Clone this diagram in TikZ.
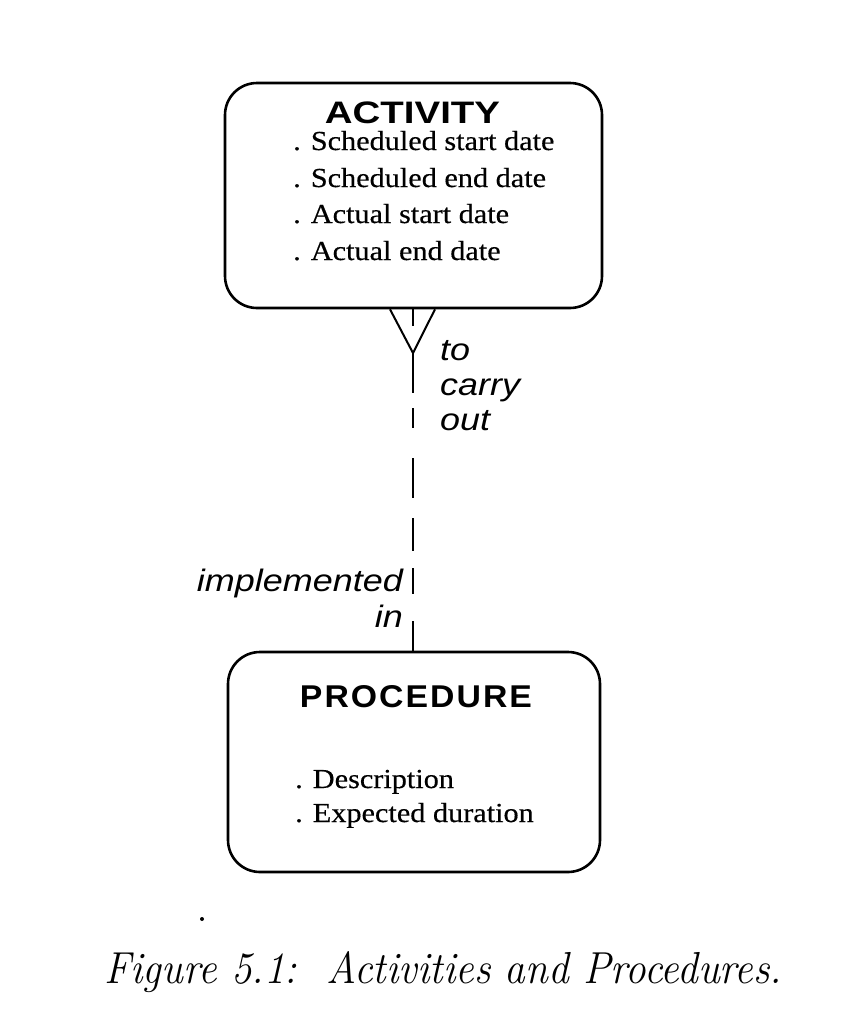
\documentclass[tikz,border=0pt]{standalone}
\usepackage{fontspec}
\usepackage{graphicx}
\newfontfamily\headfont{Liberation Sans}
\newfontfamily\lblfont{Liberation Sans}[FakeStretch=1.16]
\newfontfamily\attrfont{Liberation Serif}[FakeStretch=1.1,FakeBold=0.4]
\newcommand\captfont{\rmfamily\itshape\fontsize{40}{48}\selectfont}
\begin{document}
\begin{tikzpicture}[x=1pt,y=-1pt,
  entity/.style={draw, line width=2.6pt, rounded corners=32pt, inner sep=0pt},
  attr/.style={anchor=base west, inner sep=0pt, font=\attrfont\fontsize{27.5}{33}\selectfont},
  head/.style={anchor=base, inner sep=0pt},
  lbl/.style={inner sep=0pt, font=\lblfont\itshape\fontsize{31}{35}\selectfont},
  rel/.style={line width=2pt}]
\useasboundingbox (0,0) rectangle (860,1028);
\fill[white] (0,0) rectangle (860,1028);

% entities
\node[entity, minimum width=377pt, minimum height=225pt] (act) at (413.5,195.5) {};
\node[entity, minimum width=372pt, minimum height=220pt] (proc) at (414,762) {};

% titles
\node[head] (acttitle) at (412.5,123) {\resizebox{175pt}{21.7pt}{\headfont\bfseries ACTIVITY}};
\node[head] (proctitle) at (416,707) {\resizebox{232pt}{22pt}{\headfont\bfseries\addfontfeature{LetterSpace=6}PROCEDURE}};

% attributes
\node[attr] (a1) at (293,150) {. Scheduled start date};
\node[attr] (a2) at (293,187) {. Scheduled end date};
\node[attr] (a3) at (293,223) {. Actual start date};
\node[attr] (a4) at (293,260) {. Actual end date};
\node[attr] (p1) at (295,788) {. Description};
\node[attr] (p2) at (295,822) {. Expected duration};

% relationship
\coordinate (crowtip) at (413,353);
\draw[rel] ([xshift=-23.5pt]act.south) -- (crowtip) -- ([xshift=21.5pt]act.south);
\draw[rel, dash pattern=on 17pt off 27pt on 40pt off 15pt on 20pt off 30pt on 40pt off 20pt on 33pt off 17pt on 26pt off 27pt on 60pt]
  ([xshift=-0.5pt]act.south) -- ([xshift=-1pt]proc.north);

% labels
\node[lbl, anchor=base west] (l1) at (440,360) {to};
\node[lbl, anchor=base west] (l2) at (440,395) {carry};
\node[lbl, anchor=base west] (l3) at (440,430) {out};
\node[lbl, anchor=base east] (l4) at (403,591) {implemented};
\node[lbl, anchor=base east] (l5) at (403,627) {in};

% speck
\fill (202,919) circle (2pt);

% caption
\node[anchor=base west, inner sep=0pt] (cap) at (104,983) {\resizebox{678pt}{32pt}{\captfont Figure 5.1:\ \ Activities and Procedures.}};
\end{tikzpicture}
\end{document}
